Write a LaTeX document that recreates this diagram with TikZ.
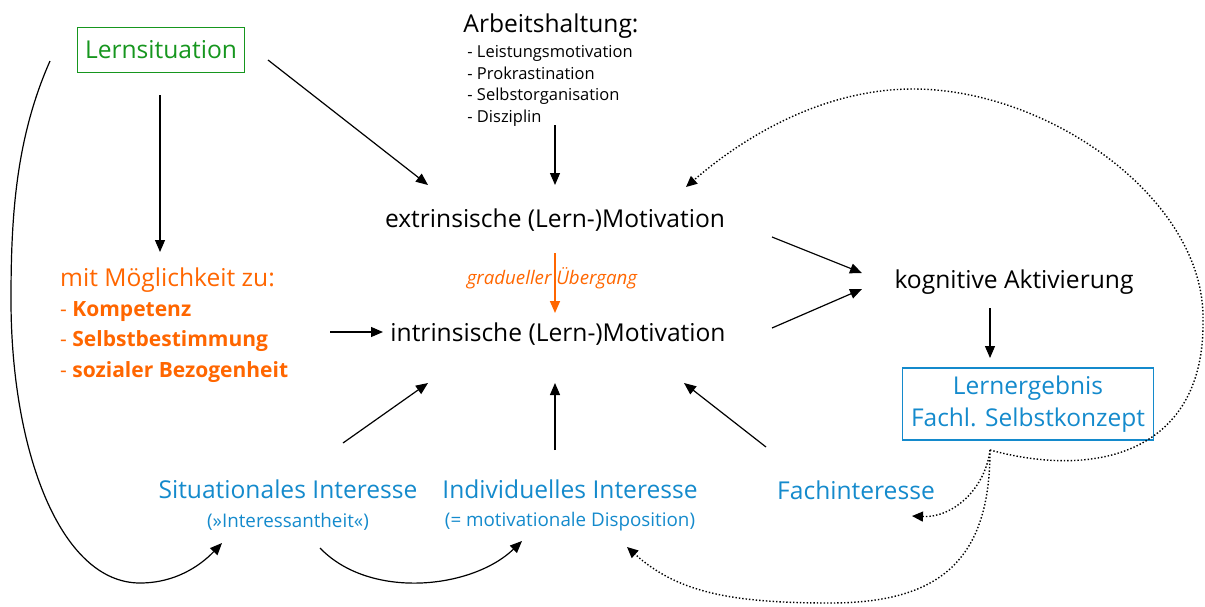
\documentclass[tikz,border=0pt]{standalone}
\usepackage{fontspec}
\setmainfont{Open Sans}
\usetikzlibrary{positioning,arrows.meta}

\definecolor{lsgreen}{RGB}{22,150,30}
\definecolor{lsorange}{RGB}{255,102,0}
\definecolor{lsblue}{RGB}{20,138,204}

\tikzset{
  bigtxt/.style={font=\fontsize{24.6}{30.3}\selectfont, inner sep=0pt},
  subtxt/.style={font=\fontsize{18.8}{22}\selectfont, inner sep=0pt, text=lsblue},
  listtxt/.style={font=\fontsize{16.5}{21.7}\selectfont, inner sep=0pt},
  lbox/.style={draw, line width=1.5pt},
  arr/.style={-{Triangle[length=12pt,width=10pt]}, line width=1.2pt},
  dotarr/.style={-{Triangle[length=11pt,width=10pt]}, line width=1.4pt, dash pattern=on 1.4pt off 2pt},
}

\begin{document}
\begin{tikzpicture}[x=1pt, y=-1pt, on grid]
  \useasboundingbox (0,0) rectangle (1205,606);
  % Define nodes
  \node[bigtxt, lbox, draw=lsgreen, text=lsgreen, minimum width=167pt, minimum height=45pt] (lsit) at (161,50) {Lernsituation};
  \node[bigtxt] (arb) at (551,26) {Arbeitshaltung:};
  \node[listtxt, align=left, below=60pt of arb, xshift=-1pt] (arbl) {- Leistungsmotivation\\- Prokrastination\\- Selbstorganisation\\- Disziplin};
  \node[bigtxt] (extr) at (555,220) {extrinsische (Lern-)Motivation};
  \node[bigtxt, below=114pt of extr, xshift=3pt] (intr) {intrinsische (Lern-)Motivation};
  \node[inner sep=0pt, font=\fontsize{18.7}{22}\selectfont\itshape, text=lsorange, below=58pt of extr, xshift=-3pt] (grad) {gradueller Übergang};
  \node[bigtxt, below right=62pt and 459pt of extr] (kog) {kognitive Aktivierung};
  \node[bigtxt, lbox, draw=lsblue, text=lsblue, line width=1.8pt, align=center, minimum width=251pt, minimum height=72pt, font=\fontsize{24.5}{32}\selectfont, below=122pt of kog, xshift=14pt] (lern) {Lernergebnis\\Fachl. Selbstkonzept};
  \node[bigtxt, text=lsorange, align=left, anchor=west] (moeg) at (60,325) {mit Möglichkeit zu:\\{\fontsize{21}{30}\selectfont - \textbf{Kompetenz}}\\{\fontsize{21}{30}\selectfont - \textbf{Selbstbestimmung}}\\{\fontsize{21}{30}\selectfont - \textbf{sozialer Bezogenheit}}};
  \node[bigtxt, text=lsblue] (sit) at (288,489) {Situationales Interesse};
  \node[subtxt, below=33pt of sit] (sitsub) {(»Interessantheit«)};
  \node[bigtxt, text=lsblue, right=282pt of sit] (ind) {Individuelles Interesse};
  \node[subtxt, below=33pt of ind] (indsub) {(= motivationale Disposition)};
  \node[bigtxt, text=lsblue, right=286pt of ind, yshift=-1pt] (fach) {Fachinteresse};
  \coordinate (loopL) at (11,300);
  \coordinate (loopBL) at (140,583);
  \coordinate (loopR) at (1203,320);
  \coordinate (loopT) at (913,89);
  \coordinate (loopB) at (830,603);
  % Connect nodes
  \draw[arr] ([shift={(-1,45)}]lsit.center) -- ([shift={(100,-73)}]moeg.west);
  \draw[arr] ([shift={(107,10)}]lsit.center) -- ([shift={(-127,-35)}]extr.center);
  \draw[arr] ([shift={(5,39)}]arbl.center) -- ([shift={(0,-35)}]extr.center);
  \draw[arr, color=lsorange, line width=1.6pt] ([shift={(0,33)}]extr.center) -- ([shift={(-3,-21)}]intr.center);
  \draw[arr] ([shift={(217,17)}]extr.center) -- ([shift={(-152,-9)}]kog.center);
  \draw[arr] ([shift={(214,-6)}]intr.center) -- ([shift={(-152,7)}]kog.center);
  \draw[arr] ([shift={(-24,26)}]kog.center) -- ([shift={(-38,-46)}]lern.center);
  \draw[arr] ([shift={(270,7)}]moeg.west) -- ([shift={(-175,-2)}]intr.center);
  \draw[arr] ([shift={(55,-46)}]sit.center) -- ([shift={(-130,49)}]intr.center);
  \draw[arr] ([shift={(-15,-39)}]ind.center) -- ([shift={(-3,49)}]intr.center);
  \draw[arr] ([shift={(-90,-43)}]fach.center) -- ([shift={(126,49)}]intr.center);
  \draw[arr] ([shift={(-111,11)}]lsit.center) .. controls +(-35,79) and +(0,-80) .. (loopL)
    .. controls +(0,150) and +(-80,0) .. (loopBL)
    .. controls +(35,0) and +(-22,23) .. ([shift={(-66,21)}]sitsub.center);
  \draw[arr] ([shift={(32,26)}]sitsub.center) .. controls +(50,52) and +(-50,48) .. ([shift={(-48,19)}]indsub.center);
  % dotted feedback
  \draw[dotarr] ([shift={(-38,46)}]lern.center) .. controls +(110,30) and +(2,130) .. (loopR)
    .. controls +(2,-120) and +(137,0) .. (loopT)
    .. controls +(-93,0) and +(54,-47) .. ([shift={(131,-33)}]extr.center);
  \draw[dotarr] ([shift={(-38,46)}]lern.center) .. controls +(-5,40) and +(40,2) .. ([shift={(56,26)}]fach.center);
  \draw[dotarr] ([shift={(-38,46)}]lern.center) .. controls +(0,110) and +(110,0) .. (loopB)
    .. controls +(-100,0) and +(50,45) .. ([shift={(57,25)}]indsub.center);
\end{tikzpicture}
\end{document}
